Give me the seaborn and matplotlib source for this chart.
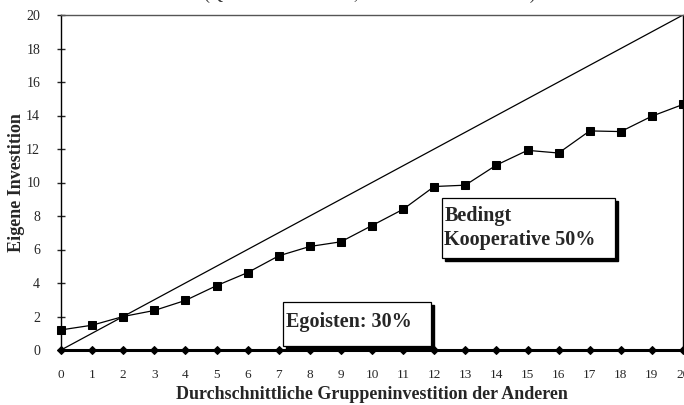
import numpy as np
import pandas as pd
import matplotlib
matplotlib.use("Agg")
import matplotlib.pyplot as plt
from matplotlib.patches import Rectangle
import seaborn as sns

# Daten
beitrag_andere = list(range(21))
bedingt_koop = [1.2, 1.48, 2.0, 2.36, 2.96, 3.84, 4.62, 5.62, 6.18, 6.46, 7.43,
                8.4, 9.76, 9.84, 11.04, 11.92, 11.76, 13.08, 13.04, 13.96, 14.66]
egoisten = [0] * 21
diagonale = list(range(21))
y_ticks = list(range(0, 21, 2))

titel = "(Quelle: Fischbacher, Gächter und Fehr 2001)"
label_koop = "Bedingt\nKooperative 50%"
label_ego = "Egoisten: 30%"

sns.set_style("white")
plt.rcParams['font.family'] = ['Liberation Serif', 'DejaVu Serif']

df = pd.DataFrame({'x': beitrag_andere, 'koop': bedingt_koop,
                   'ego': egoisten, 'diag': diagonale})

fig = plt.figure(figsize=(6.84, 4.05), dpi=100)
ax = fig.add_axes([61/684, 1 - 350/405, 622/684, 335/405])

sns.lineplot(data=df, x='x', y='diag', ax=ax, color='black', lw=0.9)
sns.lineplot(data=df, x='x', y='koop', ax=ax, color='black', lw=0.9,
             marker='s', markersize=5.3, markeredgecolor='black', clip_on=False)
sns.lineplot(data=df, x='x', y='ego', ax=ax, color='black', lw=2.2,
             marker='D', markersize=4, markeredgecolor='black', clip_on=False, zorder=5)

ax.set_xlim(0, 20)
ax.set_ylim(0, 20)
ax.set_xticks(beitrag_andere)
ax.set_yticks(y_ticks)
ax.tick_params(axis='x', length=0, pad=14, labelsize=9.5)
ax.tick_params(axis='y', direction='inout', length=6, width=1, left=True,
               labelsize=10, pad=12)
for s in ax.spines.values():
    s.set_color('black')
    s.set_linewidth(1.0)
ax.spines['top'].set_color('#555555')

ax.set_xlabel("Durchschnittliche Gruppeninvestition der Anderen",
              fontsize=13, fontweight='bold', labelpad=3)
ax.set_ylabel("Eigene Investition", fontsize=13, fontweight='bold', labelpad=1)

# Textkästen mit Schatten
def kasten(x0, y0, x1, y1):
    sx = 3 * 20 / 622
    sy = 3 * 20 / 335
    ax.add_patch(Rectangle((x0 + sx, y0 - sy), x1 - x0, y1 - y0, facecolor='black',
                           edgecolor='black', zorder=6, clip_on=False))
    ax.add_patch(Rectangle((x0, y0), x1 - x0, y1 - y0, facecolor='white',
                           edgecolor='black', lw=0.9, zorder=7, clip_on=False))

kasten(12.25, 5.5, 17.8, 9.1)
ax.text(12.33, 7.3, label_koop, fontsize=14.5, fontweight='bold',
        va='center', ha='left', zorder=8, linespacing=1.25)

kasten(7.15, 0.25, 11.9, 2.88)
ax.text(7.25, 1.65, label_ego, fontsize=14.5, fontweight='bold',
        va='center', ha='left', zorder=8)

fig.text(370/684, 1.0 + 6/405, titel, fontsize=13, ha='center', va='center',
         color='#333333')

fig.savefig("out.png", dpi=100)
